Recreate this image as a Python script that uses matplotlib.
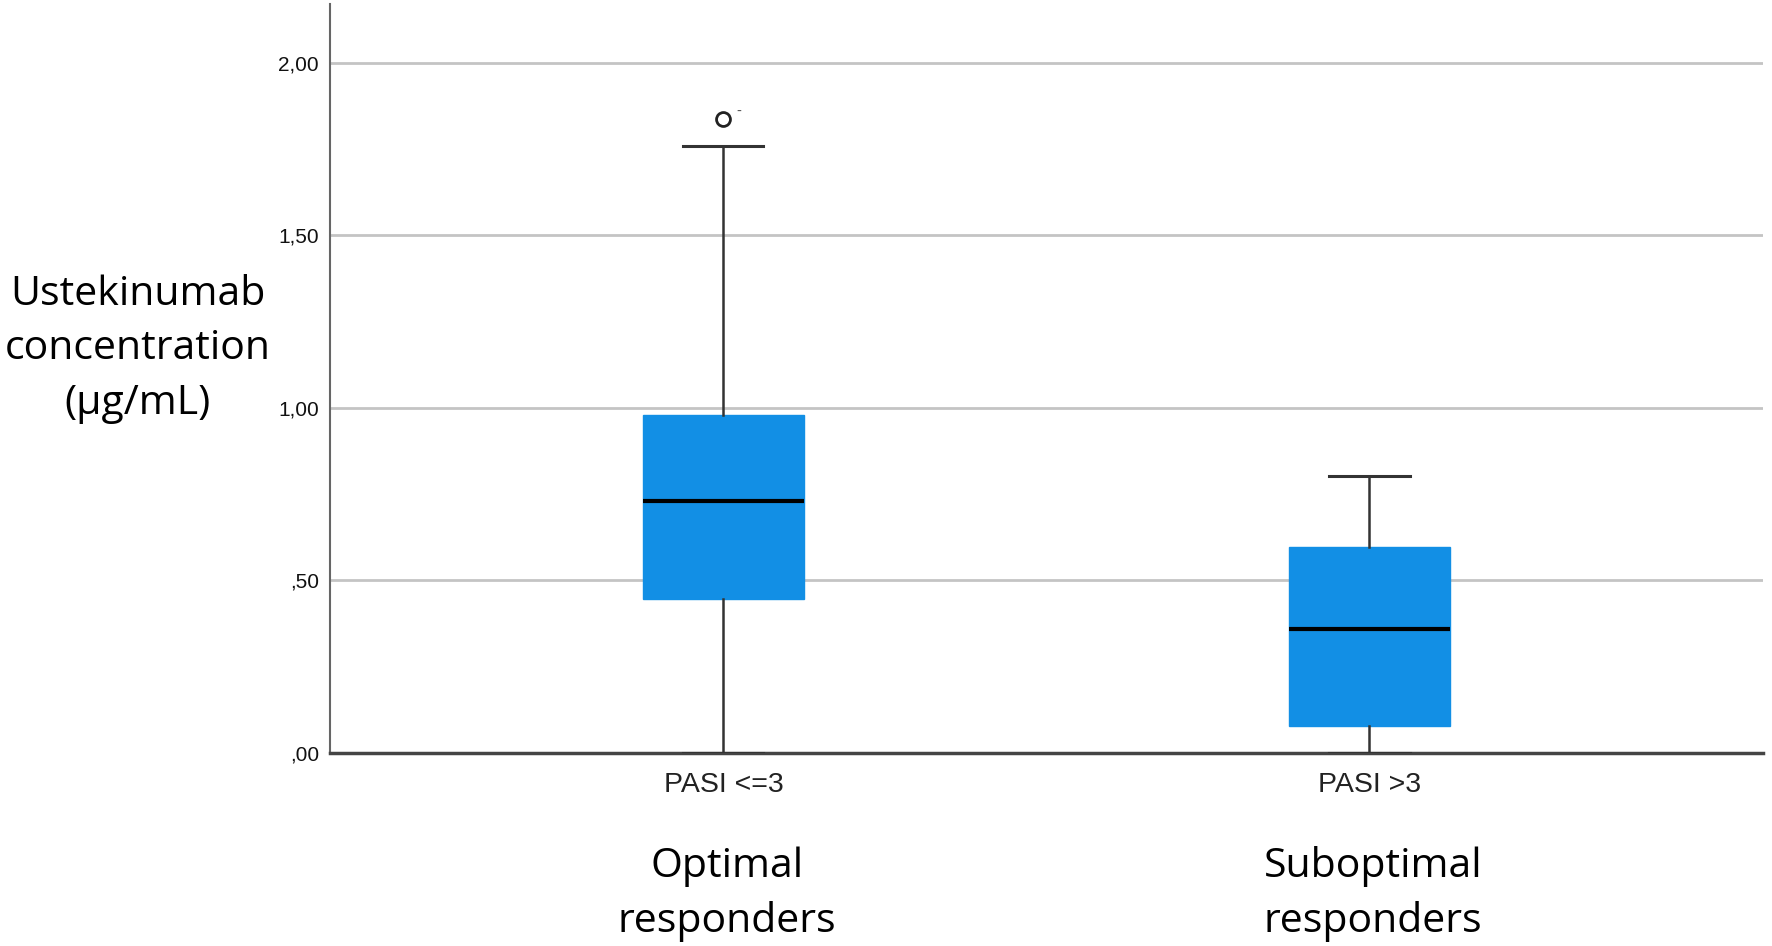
import matplotlib
matplotlib.use("Agg")
import matplotlib.pyplot as plt

# values (µg/mL)
groups = ["PASI <=3", "PASI >3"]
group_names = ["Optimal\nresponders", "Suboptimal\nresponders"]
q1 = [0.445, 0.076]
medians = [0.729, 0.359]
q3 = [0.978, 0.596]
whisker_lo = [0.0, 0.0]
whisker_hi = [1.757, 0.801]
outliers = [[1.838], []]
yticks = [0.0, 0.5, 1.0, 1.5, 2.0]
ytick_labels = [",00", ",50", "1,00", "1,50", "2,00"]

box_color = "#128fe5"

fig = plt.figure(figsize=(17.72, 9.46), dpi=100)
ax = fig.add_axes([0.1862, 0.2045, 0.8087, 0.7913])

stats = []
for i in range(len(groups)):
    stats.append(dict(label=groups[i], q1=q1[i], med=medians[i], q3=q3[i],
                      whislo=whisker_lo[i], whishi=whisker_hi[i], fliers=outliers[i]))

ax.bxp(stats, positions=[1, 2], widths=0.25, capwidths=0.124,
       patch_artist=True, showfliers=True,
       boxprops=dict(facecolor=box_color, edgecolor=box_color, linewidth=1),
       medianprops=dict(color="black", linewidth=3),
       whiskerprops=dict(color="#333333", linewidth=1.8),
       capprops=dict(color="#333333", linewidth=2.2),
       flierprops=dict(marker="o", markersize=10, markerfacecolor="white",
                       markeredgecolor="#222222", markeredgewidth=2),
       zorder=3)

# small case label next to the outlier
ax.text(1.0 + 0.02, outliers[0][0] + 0.02, "-", fontsize=10, color="#555555",
        ha="left", va="center")

ax.set_xlim(0.391, 2.609)
ax.set_ylim(0, 2.17)
ax.set_yticks(yticks)
ax.set_yticklabels(ytick_labels, fontsize=15, family="Liberation Sans", color="#111111")
ax.set_xticks([1, 2])
ax.set_xticklabels(groups, fontsize=20.5, family="Liberation Sans", color="#222222")
ax.tick_params(axis="y", length=0, pad=8)
ax.tick_params(axis="x", length=0, pad=14)

ax.yaxis.grid(True, color="#c4c4c4", linewidth=2)
ax.set_axisbelow(True)

for s in ["top", "right"]:
    ax.spines[s].set_visible(False)
ax.spines["left"].set_color("#666666")
ax.spines["left"].set_linewidth(1.5)
ax.spines["bottom"].set_color("#444444")
ax.spines["bottom"].set_linewidth(2.5)

fig.text(138 / 1772, 1 - 349 / 946, "Ustekinumab\nconcentration\n(µg/mL)",
         fontsize=29.5, family="Open Sans", ha="center", va="center", linespacing=1.46)

for i, name in enumerate(group_names):
    x_fig = ax.transData.transform((i + 1, 0))[0] / fig.bbox.width
    fig.text(x_fig + 0.002, 1 - 894 / 946, name, fontsize=29.5, family="Open Sans",
             ha="center", va="center", linespacing=1.46)

fig.savefig("out.png", dpi=100, facecolor="white")
